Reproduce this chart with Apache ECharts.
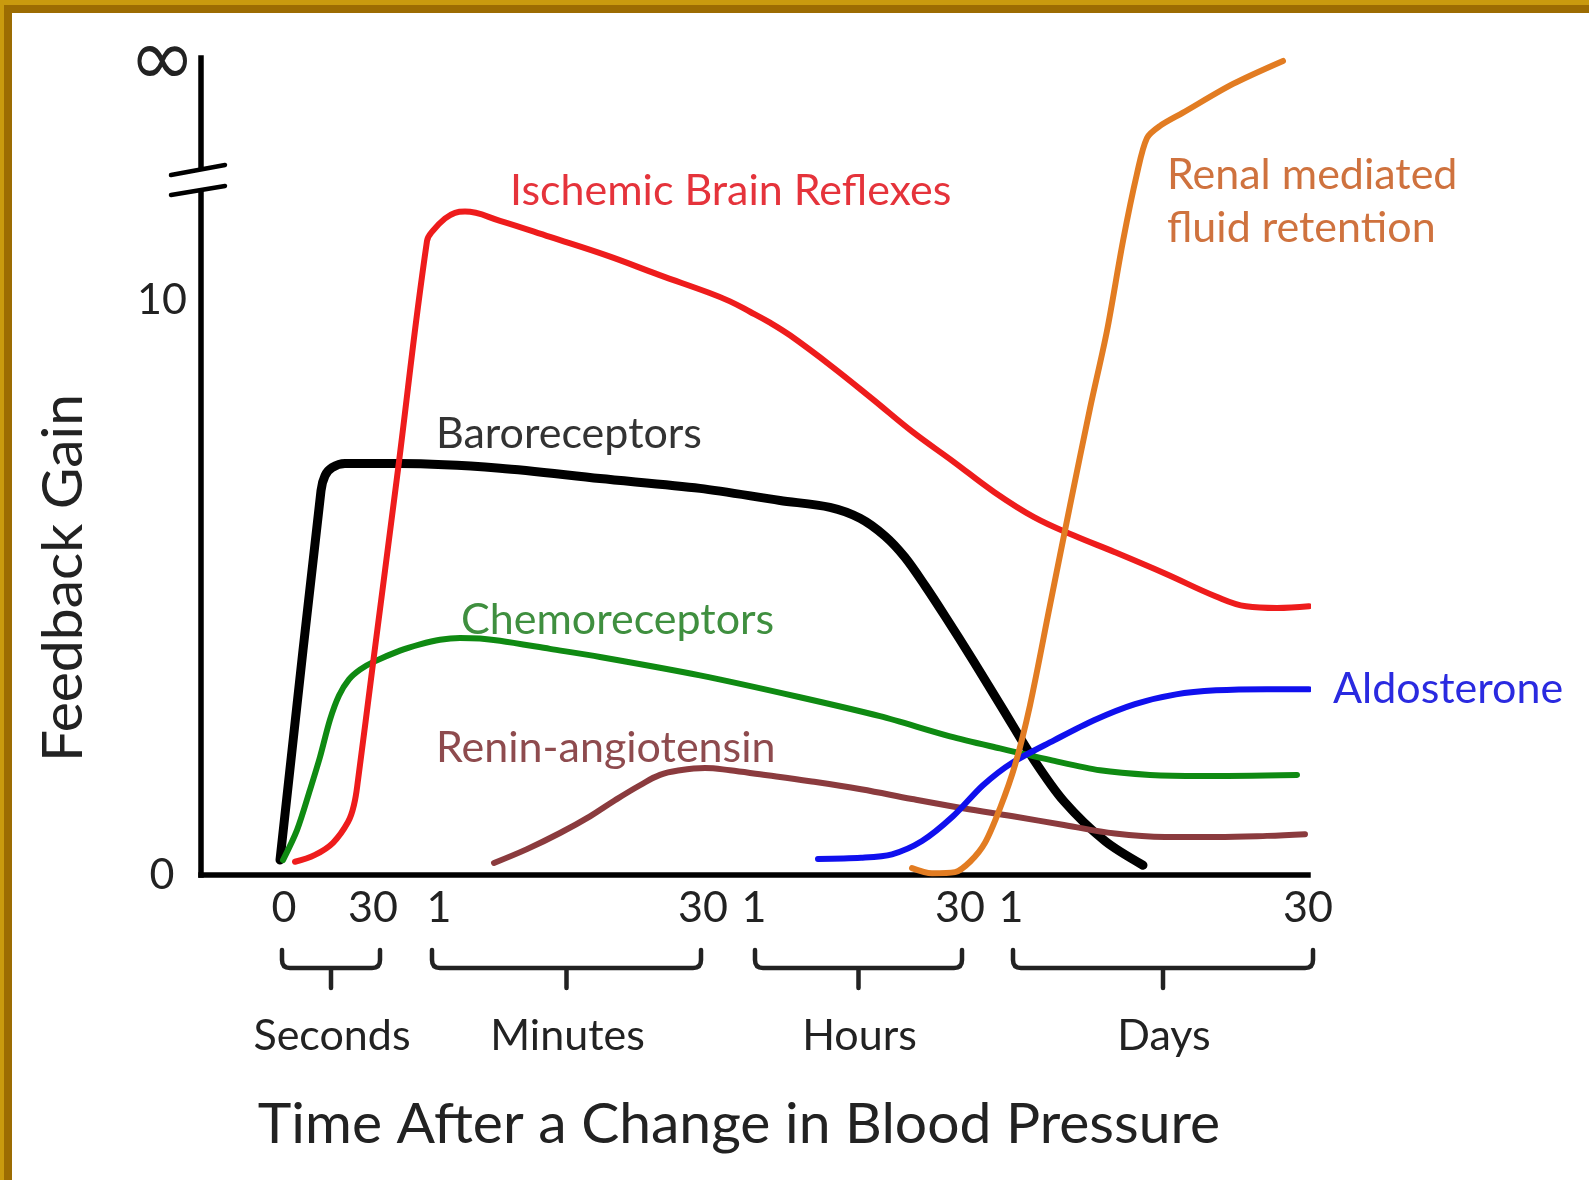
<!DOCTYPE html>
<html>
<head>
<meta charset="utf-8">
<title>Feedback Gain vs Time</title>
<script src="https://cdn.jsdelivr.net/npm/echarts@6/dist/echarts.min.js"></script>
<style>
  html, body { margin: 0; padding: 0; background: #fff; }
  #chart { width: 1589px; height: 1180px; }
</style>
</head>
<body>
<div id="chart"></div>
<script>
// Time axis: positions in arbitrary units along a segmented (seconds / minutes / hours / days) scale
const tickPositions = [8.3, 17.2, 23.8, 50.2, 55.3, 75.9, 81.0, 110.7];
const tickLabels = ['0', '30', '1', '30', '1', '30', '1', '30'];
const unitNames = ['Seconds', 'Minutes', 'Hours', 'Days'];
const unitStarts = [8.1, 23.1, 55.4, 81.2];
const unitEnds = [17.9, 50.0, 76.1, 111.2];

// Gain axis: the top of the axis stands for an infinite gain
const gainTicks = [0, 10];
const gainTickLabels = ['0', '10'];
const gainTop = 14.2;
const gainTopLabel = '∞';

// [time position, feedback gain]
const baroreceptors = [
  [7.9, 0.26], [12.0, 6.68], [12.4, 6.94], [13.1, 7.08], [14.4, 7.15], [19.9, 7.15],
  [29.9, 7.07], [39.9, 6.89], [49.9, 6.72], [57.9, 6.51], [62.9, 6.39], [65.9, 6.20],
  [68.4, 5.89], [70.4, 5.52], [72.4, 5.03], [74.4, 4.50], [77.2, 3.73], [80.2, 2.88],
  [83.3, 2.00], [86.3, 1.28], [90.4, 0.59], [94.2, 0.17]
];
const ischemicBrain = [
  [9.4, 0.23], [11.4, 0.35], [13.2, 0.56], [14.7, 0.92], [15.3, 1.22], [15.7, 1.65],
  [17.2, 3.68], [19.6, 6.91], [22.6, 11.02], [23.2, 11.20], [24.4, 11.41], [25.4, 11.51],
  [26.4, 11.53], [29.9, 11.37], [34.9, 11.09], [40.7, 10.76], [45.8, 10.43], [50.8, 10.12],
  [52.9, 9.97], [54.9, 9.79], [56.9, 9.60], [58.9, 9.38], [63.0, 8.85], [67.1, 8.28],
  [71.1, 7.71], [75.2, 7.19], [79.2, 6.67], [83.3, 6.22], [87.3, 5.90], [91.4, 5.61],
  [96.4, 5.24], [101.5, 4.84], [104.5, 4.67], [107.6, 4.64], [110.8, 4.67]
];
const chemoreceptors = [
  [8.2, 0.26], [9.6, 0.78], [10.9, 1.48], [11.9, 2.05], [12.9, 2.70], [13.8, 3.12],
  [14.8, 3.40], [15.9, 3.57], [17.2, 3.70], [19.9, 3.90], [21.9, 4.01], [23.9, 4.09],
  [25.9, 4.12], [27.9, 4.11], [29.9, 4.07], [34.9, 3.93], [39.9, 3.79], [49.9, 3.47],
  [59.9, 3.09], [67.9, 2.76], [74.9, 2.41], [79.9, 2.20], [84.9, 2.00], [89.9, 1.82],
  [94.9, 1.74], [99.9, 1.72], [109.6, 1.74]
];
const reninAngiotensin = [
  [29.3, 0.21], [32.6, 0.45], [35.9, 0.73], [38.9, 1.02], [41.4, 1.30], [43.9, 1.56],
  [45.9, 1.74], [47.9, 1.82], [50.4, 1.86], [52.9, 1.82], [55.9, 1.75], [60.9, 1.63],
  [66.0, 1.49], [71.1, 1.32], [76.2, 1.16], [81.2, 1.02], [86.3, 0.87], [91.4, 0.72],
  [96.4, 0.66], [101.5, 0.66], [106.6, 0.68], [110.4, 0.71]
];
const aldosterone = [
  [61.7, 0.28], [66.0, 0.30], [69.1, 0.36], [72.1, 0.59], [75.2, 1.02], [78.2, 1.56],
  [81.2, 1.96], [85.3, 2.34], [89.3, 2.69], [93.4, 2.97], [97.5, 3.14], [101.5, 3.21],
  [106.6, 3.23], [110.8, 3.23]
];
const renalRetention = [
  [71.1, 0.12], [73.1, 0.03], [75.4, 0.05], [76.9, 0.23], [78.4, 0.56], [79.9, 1.16],
  [81.4, 1.91], [82.9, 2.95], [84.9, 4.69], [86.9, 6.42], [88.9, 8.11], [90.6, 9.46],
  [92.2, 11.02], [93.6, 12.19], [94.6, 12.81], [95.9, 13.02], [98.2, 13.25], [103.2, 13.75],
  [108.2, 14.15]
];

const FONT = 'Lato';
const INK = '#222';

function nearestIndex(list, v) {
  let best = 0;
  for (let i = 1; i < list.length; i++) {
    if (Math.abs(list[i] - v) < Math.abs(list[best] - v)) best = i;
  }
  return best;
}

function curve(name, data, color, width, z, extra) {
  return Object.assign({
    type: 'line',
    name: name,
    data: data,
    symbol: 'none',
    showSymbol: false,
    smooth: 0.3,
    clip: false,
    z: z,
    silent: true,
    lineStyle: { color: color, width: width, cap: 'round', join: 'round' }
  }, extra || {});
}

function textMark(coord, text, color, extraLabel) {
  return {
    symbol: 'circle',
    symbolSize: 0,
    silent: true,
    animation: false,
    data: [{
      coord: coord,
      label: Object.assign({
        show: true,
        position: 'right',
        distance: 0,
        formatter: text,
        color: color,
        fontFamily: FONT,
        fontSize: 43
      }, extraLabel || {})
    }]
  };
}

// Brackets grouping the ticks of each time unit
const unitSpans = unitNames.map((n, i) => [unitStarts[i], unitEnds[i], 0]);

function renderBracket(params, api) {
  const a = api.coord([api.value(0), 0]);
  const b = api.coord([api.value(1), 0]);
  const y0 = a[1];
  const x1 = a[0], x2 = b[0], xm = (x1 + x2) / 2;
  const top = y0 + 75, h = y0 + 93, r = 8;
  const path =
    'M' + x1 + ',' + top + ' L' + x1 + ',' + (h - r) +
    ' Q' + x1 + ',' + h + ' ' + (x1 + r) + ',' + h +
    ' L' + (x2 - r) + ',' + h +
    ' Q' + x2 + ',' + h + ' ' + x2 + ',' + (h - r) +
    ' L' + x2 + ',' + top +
    ' M' + xm + ',' + h + ' L' + xm + ',' + (h + 20);
  return {
    type: 'group',
    children: [
      {
        type: 'path',
        shape: { pathData: path },
        style: { stroke: INK, lineWidth: 4.5, fill: null, lineJoin: 'round', lineCap: 'round' }
      },
      {
        type: 'text',
        style: {
          text: unitNames[params.dataIndex],
          x: xm + 1, y: y0 + 161,
          align: 'center', verticalAlign: 'middle',
          font: '43px ' + FONT,
          fill: INK
        }
      }
    ]
  };
}

const chart = echarts.init(document.getElementById('chart'), null, { renderer: 'canvas' });

const option = {
  backgroundColor: '#fff',
  animation: false,
  grid: { left: 201, right: 281, top: 58, bottom: 305, containLabel: false, outerBoundsMode: 'none' },
  xAxis: {
    type: 'value',
    min: 0,
    max: 110.7,
    axisLine: { show: true, onZero: false, lineStyle: { color: '#000', width: 5.5, cap: 'square' } },
    axisTick: { show: false },
    splitLine: { show: false },
    axisLabel: {
      customValues: tickPositions,
      formatter: v => tickLabels[nearestIndex(tickPositions, v)],
      fontFamily: FONT,
      fontSize: 43,
      color: INK,
      margin: 12
    }
  },
  yAxis: {
    type: 'value',
    min: 0,
    max: gainTop,
    axisLine: { show: true, onZero: false, lineStyle: { color: '#000', width: 5.5, cap: 'square' } },
    axisTick: { show: false },
    splitLine: { show: false },
    axisLabel: {
      customValues: gainTicks,
      formatter: v => gainTickLabels[nearestIndex(gainTicks, v)],
      fontFamily: FONT,
      fontSize: 43,
      color: INK,
      align: 'center',
      margin: 39
    }
  },
  series: [
    curve('Baroreceptors', baroreceptors, '#000000', 9, 3, {
      markPoint: textMark([23.5, 7.67], 'Baroreceptors', '#333333')
    }),
    curve('Chemoreceptors', chemoreceptors, '#0f8a12', 6, 4, {
      markPoint: textMark([26.0, 4.43], 'Chemoreceptors', '#3f8f3f')
    }),
    curve('Renin-angiotensin', reninAngiotensin, '#8b3b3e', 6, 4, {
      smooth: 0.4,
      markPoint: textMark([23.5, 2.20], 'Renin-angiotensin', '#8e4b4e')
    }),
    curve('Aldosterone', aldosterone, '#1010ee', 6, 5, {
      endLabel: {
        show: true,
        formatter: 'Aldosterone',
        distance: 24,
        color: '#2a2ae0',
        fontFamily: FONT,
        fontSize: 43
      }
    }),
    curve('Ischemic Brain Reflexes', ischemicBrain, '#ee1c1c', 6, 6, {
      smooth: 0.4,
      markPoint: textMark([30.9, 11.89], 'Ischemic Brain Reflexes', '#e5333b')
    }),
    curve('Renal mediated fluid retention', renalRetention, '#e27c22', 6, 7, {
      markPoint: textMark([96.6, 11.71], 'Renal mediated\nfluid retention', '#cf723e', { lineHeight: 53 })
    }),
    {
      type: 'custom',
      name: 'time units',
      coordinateSystem: 'cartesian2d',
      data: unitSpans,
      encode: { x: [0, 1], y: 2 },
      renderItem: renderBracket,
      clip: false,
      silent: true,
      z: 2
    }
  ]
};

chart.setOption(option);

// Decorations: frame, axis titles, the infinity label and the break mark on the gain axis
function drawDecorations() {
  const p = chart.convertToPixel({ gridIndex: 0 }, [0, 12.08]);
  const ax = p[0], c = p[1];
  const topPt = chart.convertToPixel({ gridIndex: 0 }, [0, gainTop]);
  chart.setOption({
    graphic: [
      { type: 'rect', shape: { x: 0, y: 0, width: 1589, height: 5 }, style: { fill: '#c99a0e' }, z: 100, silent: true },
      { type: 'rect', shape: { x: 0, y: 5, width: 1589, height: 8 }, style: { fill: '#9c6c02' }, z: 100, silent: true },
      { type: 'rect', shape: { x: 0, y: 0, width: 4, height: 1180 }, style: { fill: '#c99a0e' }, z: 100, silent: true },
      { type: 'rect', shape: { x: 4, y: 5, width: 8, height: 1175 }, style: { fill: '#9c6c02' }, z: 100, silent: true },
      {
        type: 'rect', silent: true, z: 50,
        shape: { x: ax - 6, y: c - 10, width: 12, height: 19 },
        style: { fill: '#fff' }
      },
      {
        type: 'line', silent: true, z: 51,
        shape: { x1: ax - 30, y1: c - 5, x2: ax + 24, y2: c - 15 },
        style: { stroke: '#000', lineWidth: 4.5, lineCap: 'round' }
      },
      {
        type: 'line', silent: true, z: 51,
        shape: { x1: ax - 30, y1: c + 15, x2: ax + 24, y2: c + 6 },
        style: { stroke: '#000', lineWidth: 4.5, lineCap: 'round' }
      },
      {
        type: 'text', silent: true, z: 51,
        x: topPt[0] - 39, y: topPt[1] + 6,
        style: {
          text: gainTopLabel, align: 'center', verticalAlign: 'middle',
          fontSize: 80, fontFamily: 'DejaVu Sans', fill: INK
        }
      },
      {
        type: 'text', silent: true, z: 51,
        x: 64, y: 578, rotation: Math.PI / 2,
        style: {
          text: 'Feedback Gain', align: 'center', verticalAlign: 'middle',
          font: '57px ' + FONT, fill: INK
        }
      },
      {
        type: 'text', silent: true, z: 51,
        x: 739, y: 1125,
        style: {
          text: 'Time After a Change in Blood Pressure', align: 'center', verticalAlign: 'middle',
          font: '57px ' + FONT, fill: INK
        }
      }
    ]
  });
}
drawDecorations();
</script>
</body>
</html>
